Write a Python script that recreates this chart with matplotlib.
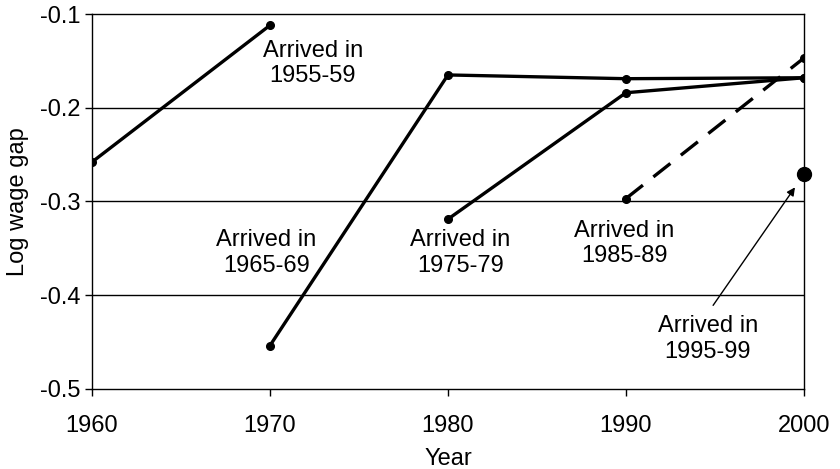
import matplotlib
matplotlib.use("Agg")
import matplotlib.pyplot as plt

# log wage gap by census year, one list per arrival cohort
years_5559 = [1960, 1970]
gap_5559 = [-0.258, -0.112]

years_6569 = [1970, 1980, 1990, 2000]
gap_6569 = [-0.454, -0.165, -0.169, -0.168]

years_7579 = [1980, 1990, 2000]
gap_7579 = [-0.319, -0.184, -0.168]

years_8589 = [1990, 2000]
gap_8589 = [-0.297, -0.147]

years_9599 = [2000]
gap_9599 = [-0.271]

x_ticks = [1960, 1970, 1980, 1990, 2000]
y_ticks = [-0.5, -0.4, -0.3, -0.2, -0.1]

plt.rcParams["font.family"] = ["Liberation Sans", "DejaVu Sans"]

fig = plt.figure(figsize=(8.4, 4.69), dpi=100)
ax = fig.add_axes([0.1095, 0.1712, 0.8475, 0.7988])

for v in y_ticks[1:-1]:
    ax.axhline(v, color="black", lw=1.0, zorder=1)

kw = dict(color="black", lw=2.4, marker="o", markersize=5.5, zorder=3)
ax.plot(years_5559, gap_5559, **kw)
ax.plot(years_6569, gap_6569, **kw)
ax.plot(years_7579, gap_7579, **kw)
ax.plot(years_8589, gap_8589, dashes=(6.5, 4), **kw)
ax.plot(years_9599, gap_9599, "o", color="black", markersize=10, zorder=3,
        clip_on=False)

fs = 17
ax.text(1972.4, -0.153, "Arrived in\n1955-59", ha="center", va="center", fontsize=fs)
ax.text(1969.8, -0.355, "Arrived in\n1965-69", ha="center", va="center", fontsize=fs)
ax.text(1980.7, -0.355, "Arrived in\n1975-79", ha="center", va="center", fontsize=fs)
ax.text(1989.9, -0.345, "Arrived in\n1985-89", ha="center", va="center", fontsize=fs)
ax.text(1994.6, -0.447, "Arrived in\n1995-99", ha="center", va="center", fontsize=fs)
ax.annotate("", xy=(1999.5, -0.285), xytext=(1994.9, -0.411),
            arrowprops=dict(arrowstyle="-|>", color="black", lw=1.0,
                            mutation_scale=12, shrinkA=0, shrinkB=0))

ax.set_xlim(1960, 2000)
ax.set_ylim(-0.5, -0.1)
ax.set_xticks(x_ticks)
ax.set_yticks(y_ticks)
ax.set_yticklabels(["-0.5", "-0.4", "-0.3", "-0.2", "-0.1"])
ax.tick_params(labelsize=fs, length=5, width=1, direction="out")
ax.tick_params(axis="x", pad=14)
ax.tick_params(axis="y", pad=3)
for s in ax.spines.values():
    s.set_linewidth(1.0)

ax.set_xlabel("Year", fontsize=fs, labelpad=8)
ax.set_ylabel("Log wage gap", fontsize=fs, labelpad=8)

fig.savefig("out.png", dpi=100)
